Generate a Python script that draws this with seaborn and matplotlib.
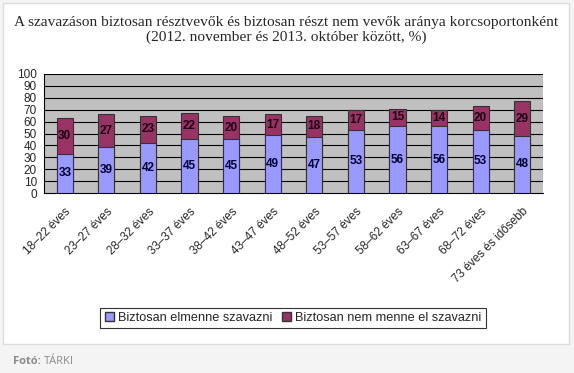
import numpy as np
import pandas as pd
import matplotlib
matplotlib.use('Agg')
import matplotlib.pyplot as plt
import matplotlib.patches as mpatches
import seaborn as sns

sns.set_style('white')
plt.rcParams['font.family'] = ['Liberation Sans', 'DejaVu Sans']

# Adatok
korcsoportok = ['18–22 éves', '23–27 éves', '28–32 éves', '33–37 éves', '38–42 éves',
                '43–47 éves', '48–52 éves', '53–57 éves', '58–62 éves', '63–67 éves',
                '68–72 éves', '73 éves és idősebb']
elmenne = [33, 39, 42, 45, 45, 49, 47, 53, 56, 56, 53, 48]
nem_menne = [30, 27, 23, 22, 20, 17, 18, 17, 15, 14, 20, 29]
yticks = [0, 10, 20, 30, 40, 50, 60, 70, 80, 90, 100]

cim = ('A szavazáson biztosan résztvevők és biztosan részt nem vevők aránya korcsoportonként\n'
       '(2012. november és 2013. október között, %)')
nev1 = 'Biztosan elmenne szavazni'
nev2 = 'Biztosan nem menne el szavazni'

kek = '#9999FF'
lila = '#993366'

df = pd.DataFrame({'kor': korcsoportok, 'elmenne': elmenne, 'nem': nem_menne})
df['osszes'] = df['elmenne'] + df['nem']

W, H = 574, 373
fig = plt.figure(figsize=(W / 100, H / 100), dpi=100)
fig.patch.set_facecolor('#f4f4f4')

# fehér kártya keret
card = mpatches.Rectangle((3 / W, (H - 344) / H), 566 / W, 341 / H, transform=fig.transFigure,
                          facecolor='white', edgecolor='#dcdcdc', linewidth=1, zorder=-10)
fig.patches.append(card)

ax = fig.add_axes([44 / W, (H - 193) / H, 499 / W, 119 / H])
ax.set_facecolor('#C0C0C0')

sns.barplot(x='kor', y='osszes', data=df, color=lila, width=0.39, saturation=1,
            edgecolor='#333333', linewidth=0.8, ax=ax, zorder=3)
sns.barplot(x='kor', y='elmenne', data=df, color=kek, width=0.39, saturation=1,
            edgecolor='#333333', linewidth=0.8, ax=ax, zorder=4)

for i, row in df.iterrows():
    ax.text(i, row['elmenne'] / 2, str(row['elmenne']), ha='center', va='center',
            fontsize=8.5, fontweight='bold', color='#000033', zorder=5)
    ax.text(i, row['elmenne'] + row['nem'] / 2, str(row['nem']), ha='center', va='center',
            fontsize=8.5, fontweight='bold', color='#1a0010', zorder=5)

ax.set_ylim(0, 100)
ax.set_xlim(-0.5, len(korcsoportok) - 0.5)
ax.set_yticks(yticks)
ax.set_yticklabels([str(v) for v in yticks], fontsize=8.5)
for y in yticks[1:]:
    ax.axhline(y, color='black', linewidth=0.8, zorder=1)

ax.set_xticks(np.arange(len(korcsoportok)))
ax.set_xticklabels(korcsoportok, rotation=45, ha='right', va='top',
                   rotation_mode='anchor', fontsize=8.5)
ax.tick_params(axis='x', length=0, pad=9)
ax.set_xticks(np.arange(-0.5, len(korcsoportok)), minor=True)
ax.tick_params(axis='x', which='minor', length=4, width=0.8, color='black', direction='out')
ax.tick_params(axis='y', length=4, width=0.8, color='black', direction='out', pad=1)
ax.set_xlabel('')
ax.set_ylabel('')
for s in ['top', 'right']:
    ax.spines[s].set_visible(False)
for s in ['left', 'bottom']:
    ax.spines[s].set_color('black')
    ax.spines[s].set_linewidth(0.8)

fig.text(0.499, (H - 30) / H, cim, ha='center', va='center', fontsize=11.1,
         family='Liberation Serif', linespacing=1.2)

handles = [mpatches.Patch(facecolor=kek, edgecolor='#333333', label=nev1),
           mpatches.Patch(facecolor=lila, edgecolor='#333333', label=nev2)]
leg = fig.legend(handles=handles, loc='center', bbox_to_anchor=(293 / W, (H - 318) / H),
                 ncol=2, fontsize=9.2, frameon=True, fancybox=False, edgecolor='black',
                 handlelength=0.7, handleheight=0.7, handletextpad=0.3, columnspacing=0.8,
                 borderpad=0.35)
leg.get_frame().set_linewidth(0.8)

fig.text(13 / W, (H - 362) / H, 'Fotó:', ha='left', va='center', fontsize=8,
         color='#8a8a8a', fontweight='bold', family='Open Sans')
fig.text(44 / W, (H - 362) / H, 'TÁRKI', ha='left', va='center', fontsize=8,
         color='#8a8a8a', family='Open Sans')

fig.savefig('out.png', dpi=100, facecolor=fig.get_facecolor())
